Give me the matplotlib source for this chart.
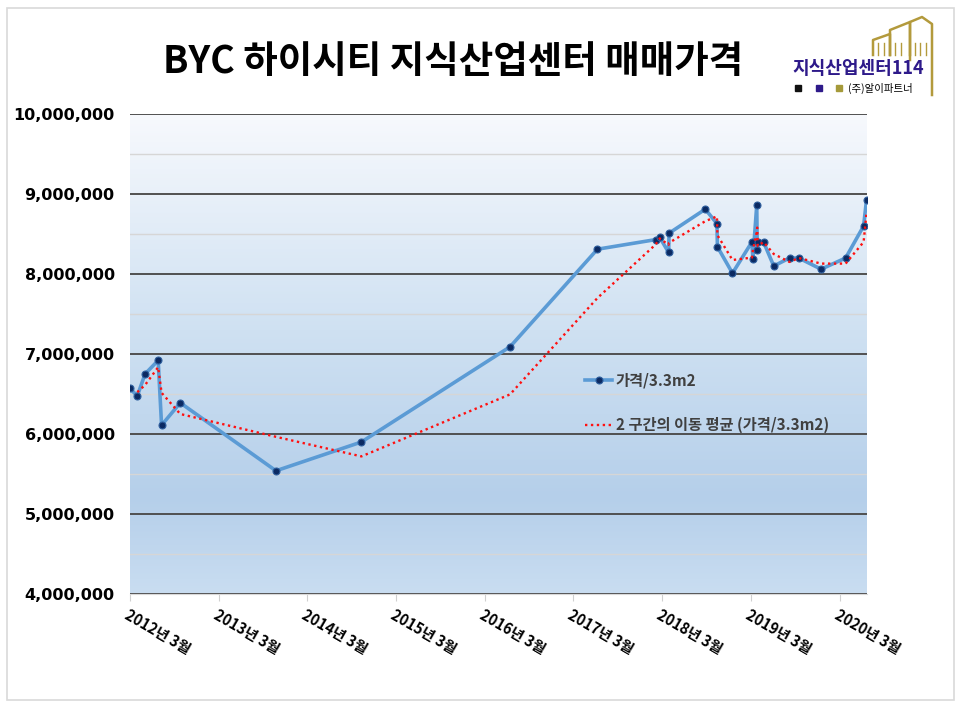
import matplotlib
matplotlib.use("Agg")
import matplotlib.pyplot as plt
from matplotlib.patches import Rectangle
from matplotlib.colors import LinearSegmentedColormap
import numpy as np
import pandas as pd

plt.rcParams["font.family"] = ["Noto Sans CJK KR", "DejaVu Sans"]

# price per 3.3m2
dates = [
    "2012-03-01", "2012-03-31", "2012-05-02", "2012-06-25", "2012-07-09",
    "2012-09-24", "2013-10-23", "2014-10-10", "2016-06-13", "2017-06-08",
    "2018-02-03", "2018-02-19", "2018-03-28", "2018-03-30", "2018-08-26",
    "2018-10-13", "2018-10-15", "2018-12-16", "2019-03-06", "2019-03-10",
    "2019-03-26", "2019-03-28", "2019-03-30", "2019-04-23", "2019-06-04",
    "2019-08-08", "2019-09-15", "2019-12-16", "2020-03-26", "2020-06-08",
    "2020-06-20",
]
prices = [
    6570000, 6475000, 6750000, 6920000, 6110000,
    6390000, 5540000, 5900000, 7090000, 8310000,
    8430000, 8460000, 8270000, 8510000, 8810000,
    8630000, 8340000, 8010000, 8400000, 8190000,
    8860000, 8300000, 8400000, 8400000, 8100000,
    8200000, 8200000, 8060000, 8200000, 8600000,
    8925000,
]
tick_years = list(range(2012, 2021))
tick_labels = [f"{y}년 3월" for y in tick_years]
title = "BYC 하이시티 지식산업센터 매매가격"
series_name = "가격/3.3m2"
ma_name = "2 구간의 이동 평균 (가격/3.3m2)"

W, H = 966, 707
fig = plt.figure(figsize=(W / 100, H / 100), dpi=100)

# outer chart frame
fig.patches.append(Rectangle((7 / W, 1 - 700 / H), 947 / W, 692 / H, transform=fig.transFigure,
                             fill=False, edgecolor="#D9D9D9", linewidth=1.2))

ax = fig.add_axes([130 / W, 1 - 594 / H, 737 / W, 480 / H])

# gradient plot background
cmap = LinearSegmentedColormap.from_list(
    "bg", [(0.0, "#F7F9FD"), (0.45, "#CFE1F2"), (0.8, "#B5CFEA"), (1.0, "#C9DDF1")])
grad = np.linspace(0, 1, 256).reshape(-1, 1)
ax.imshow(grad, cmap=cmap, aspect="auto", extent=[0, 1, 0, 1],
          transform=ax.transAxes, zorder=0)

x = pd.to_datetime(dates)
s = pd.Series(prices, index=x)
ma = s.rolling(2).mean()

ax.plot(x, s.values, color="#5B9BD5", linewidth=2.6, marker="o", markersize=5,
        markerfacecolor="#0B2A63", markeredgecolor="#2F5F9E", markeredgewidth=0.8,
        zorder=4, label=series_name)
ax.plot(x, ma.values, color="#FF1010", linewidth=1.7, linestyle=(0, (1, 1.5)),
        zorder=5, label=ma_name)

ax.set_ylim(4000000, 10000000)
ax.set_xlim(pd.Timestamp("2012-03-01"), pd.Timestamp("2020-06-22"))

ax.set_yticks(np.arange(4000000, 10000001, 1000000))
ax.set_yticks(np.arange(4500000, 10000000, 1000000), minor=True)
ax.set_yticklabels([f"{v:,}" for v in range(4000000, 10000001, 1000000)],
                   fontsize=11.5, fontweight="bold", family="DejaVu Sans")
ax.grid(axis="y", which="major", color="#505050", linewidth=1.4, zorder=1)
ax.grid(axis="y", which="minor", color="#D6D6D6", linewidth=1.0, zorder=1)
ax.tick_params(axis="y", which="both", length=0, pad=11)

ax.set_xticks([pd.Timestamp(f"{y}-03-01") for y in tick_years])
ax.set_xticklabels(tick_labels, rotation=-30, ha="left", va="top",
                   rotation_mode="anchor", fontsize=10.5, fontweight="bold")
ax.tick_params(axis="x", length=5, color="#D0D0D0", pad=4)

for side in ["left", "right", "top"]:
    ax.spines[side].set_visible(False)
ax.spines["bottom"].set_color("#D9D9D9")
ax.set_axisbelow(True)

leg = ax.legend(loc="upper left", bbox_to_anchor=(0.607, 0.478), frameon=False,
                borderpad=0, handlelength=1.8, handletextpad=0.2, labelspacing=1.9,
                prop={"size": 11, "weight": "bold"})
for t in leg.get_texts():
    t.set_color("#404040")

fig.text(453 / W, 1 - 62 / H, title, fontsize=27, fontweight="black",
         ha="center", va="center", color="black")

# logo: building outlines
gold = "#B39A3C"
logo = fig.add_axes([0, 0, 1, 1], zorder=-1)
logo.set_xlim(0, W)
logo.set_ylim(H, 0)
logo.axis("off")
logo.patch.set_alpha(0)
bld = [
    [(873, 55), (873, 40), (890, 34), (890, 55)],
    [(890, 55), (890, 30), (910, 22), (910, 55)],
    [(910, 60), (910, 22), (922, 17), (932, 24), (932, 95)],
]
for b in bld:
    bx, by = zip(*b)
    logo.plot(bx, by, color=gold, linewidth=1.8)
for wx in [878, 884, 895, 901, 915, 920, 926]:
    logo.plot([wx, wx], [43, 55], color=gold, linewidth=1.0)
fig.text(858 / W, 1 - 69 / H, "지식산업센터114", fontsize=13, fontweight="bold",
         color="#2E1A8A", ha="center", va="center")
for sx, c in [(795, "#111111"), (816, "#2E1A8A"), (836, "#A59A3A")]:
    logo.add_patch(Rectangle((sx, 85), 6, 6, color=c))
fig.text(848 / W, 1 - 88 / H, "(주)알이파트너", fontsize=7.5, color="black",
         ha="left", va="center")

fig.savefig("out.png", dpi=100)
